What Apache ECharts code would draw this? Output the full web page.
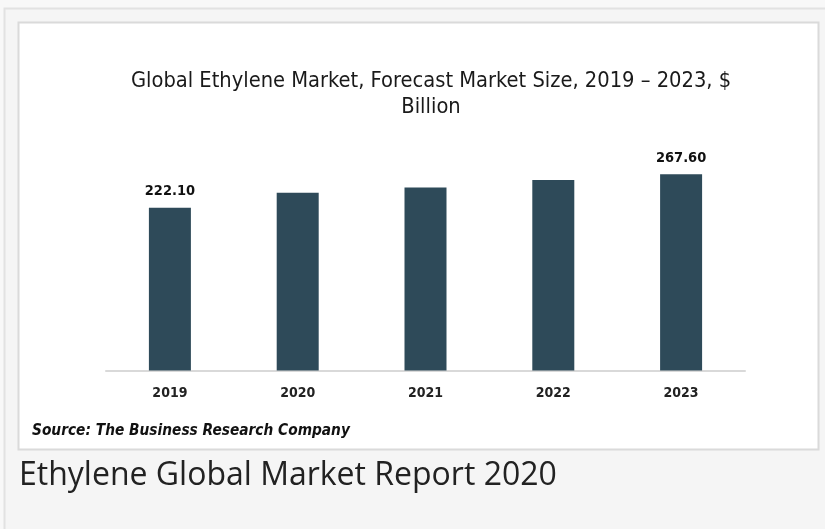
<!DOCTYPE html>
<html><head><meta charset="utf-8">
<script src="https://cdn.jsdelivr.net/npm/echarts@6/dist/echarts.min.js"></script>
<style>html,body{margin:0;padding:0;background:#f8f8f8;}#c{width:825px;height:529px;}</style>
</head><body><div id="c"></div>
<script>
const categories = ['2019', '2020', '2021', '2022', '2023'];
const values = [222.1, 242.5, 249.4, 259.8, 267.6];
const labelledIndexes = [0, 4];
const titleLine1 = 'Global Ethylene Market, Forecast Market Size, 2019 \u2013 2023, $';
const titleLine2 = 'Billion';
const sourceText = 'Source: The Business Research Company';
const headingText = 'Ethylene Global Market Report 2020';

const narrow = "'Liberation Sans Narrow', 'DejaVu Sans Condensed', sans-serif";
const chart = echarts.init(document.getElementById('c'), null, {renderer: 'canvas'});
chart.setOption({
  backgroundColor: '#f8f8f8',
  animation: false,
  graphic: [
    {type: 'rect', shape: {x: 4.5, y: 8.5, width: 900, height: 600}, style: {fill: '#f5f5f5', stroke: '#e2e2e2', lineWidth: 2}, z: -10},
    {type: 'rect', shape: {x: 18.5, y: 22.5, width: 800, height: 427}, style: {fill: '#ffffff', stroke: '#dadada', lineWidth: 2}, z: -9},
    {type: 'text', x: 431, y: 81, style: {text: titleLine1, font: "21.7px " + narrow, fill: '#1a1a1a', align: 'center', verticalAlign: 'middle'}},
    {type: 'text', x: 431, y: 107, style: {text: titleLine2, font: "21.7px " + narrow, fill: '#1a1a1a', align: 'center', verticalAlign: 'middle'}},
    {type: 'text', x: 32, y: 431, style: {text: sourceText, font: "italic bold 15.3px " + narrow, fill: '#111', align: 'left', verticalAlign: 'middle'}},
    {type: 'text', x: 19, y: 476, style: {text: headingText, font: "32px 'Open Sans', sans-serif", fill: '#222', align: 'left', verticalAlign: 'middle'}}
  ],
  grid: {left: 106, right: 80, top: 150.5, bottom: 158.5},
  xAxis: {
    type: 'category', data: categories,
    axisLine: {lineStyle: {color: '#d9d9d9', width: 2}},
    axisTick: {show: false},
    axisLabel: {color: '#222', fontWeight: 'bold', fontSize: 14, fontFamily: narrow, margin: 16}
  },
  yAxis: {type: 'value', min: 0, max: 300, show: false, splitLine: {show: false}},
  series: [{
    type: 'bar', barWidth: 42,
    itemStyle: {color: '#2e4a59'},
    data: values.map((v, i) => ({
      value: v,
      label: {show: labelledIndexes.includes(i), position: 'top', distance: 9,
        formatter: p => p.value.toFixed(2), color: '#111', fontWeight: 'bold', fontSize: 14.5, fontFamily: narrow}
    }))
  }]
});
</script></body></html>
